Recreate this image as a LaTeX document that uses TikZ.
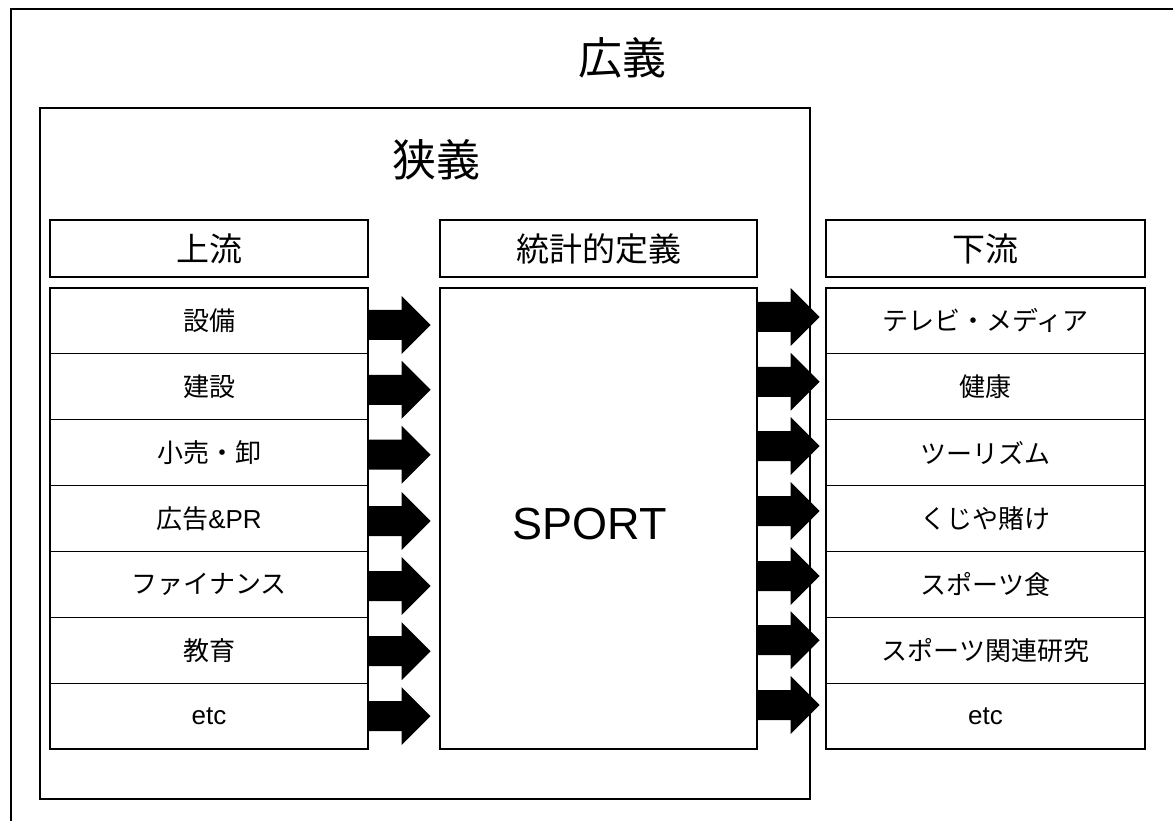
\documentclass[tikz,border=0pt]{standalone}
\usepackage{fontspec}
\setmainfont{Liberation Sans}
\newfontfamily\jp{Noto Sans CJK JP}
\usetikzlibrary{calc}
\newcommand\blockarr[1]{\fill #1 ++(0,-15) -- ++(33,0) -- ++(0,-14) -- ++(29,29) -- ++(-29,29) -- ++(0,-14) -- ++(-33,0) -- cycle;}
\begin{document}
\begin{tikzpicture}[x=1pt,y=-1pt,
  frame/.style={draw,line width=1.4pt},
  row/.style={draw,line width=1.2pt,inner sep=0pt,minimum height=65.86pt,font=\fontsize{26}{30}\selectfont\jp},
  head/.style={draw,line width=1.2pt,inner sep=0pt,minimum height=57pt,font=\fontsize{33}{38}\selectfont\jp},
  big/.style={inner sep=0pt,font=\fontsize{44}{50}\selectfont\jp}]
\useasboundingbox (0,0) rectangle (1173,821);
\clip (0,0) rectangle (1173,821);
\fill[white] (0,0) rectangle (1173,821);
% outer and inner frames
\draw[frame] (11,9) rectangle (1210,860);
\node[big] (wide) at (622,58) {広義};
\draw[frame] (40,108) rectangle (810,799);
\node[big] (narrow) at (436,160) {狭義};
% headers
\node[head,minimum width=318pt] (HU) at (209,248.5) {上流};
\node[head,minimum width=317pt] (HM) at (598.5,248.5) {統計的定義};
\node[head,minimum width=319pt] (HD) at (985.5,248.5) {下流};
% sport box
\node[draw,line width=1.2pt,inner sep=0pt,minimum width=317pt,minimum height=461pt] (S) at (598.5,518.5) {};
\node[inner sep=0pt,font=\fontsize{45}{50}\selectfont] (ST) at (590,524) {SPORT};
% left rows
\begin{scope}[every node/.append style={row,minimum width=318pt}]
\node (L1) at (209,320.9) {設備};
\node (L2) at (209,386.8) {建設};
\node (L3) at (209,452.7) {小売・卸};
\node (L4) at (209,518.5) {広告{\fontspec{Liberation Sans}\&PR}};
\node (L5) at (209,584.4) {ファイナンス};
\node (L6) at (209,650.2) {教育};
\node (L7) at (209,716.1) {{\fontspec{Liberation Sans}etc}};
\end{scope}
% right rows
\begin{scope}[every node/.append style={row,minimum width=319pt}]
\node (R1) at (985.5,320.9) {テレビ・メディア};
\node (R2) at (985.5,386.8) {健康};
\node (R3) at (985.5,452.7) {ツーリズム};
\node (R4) at (985.5,518.5) {くじや賭け};
\node (R5) at (985.5,584.4) {スポーツ食};
\node (R6) at (985.5,650.2) {スポーツ関連研究};
\node (R7) at (985.5,716.1) {{\fontspec{Liberation Sans}etc}};
\end{scope}
% left arrows
\blockarr{($(L1.east)+(0,4)$)}
\blockarr{($(L2.east)+(0,3)$)}
\blockarr{($(L3.east)+(0,2)$)}
\blockarr{($(L4.east)+(0,2.5)$)}
\blockarr{($(L5.east)+(0,1.6)$)}
\blockarr{($(L6.east)+(0,1)$)}
\blockarr{($(L7.east)+(0,0)$)}
% right arrows
\blockarr{($(S.east |- R1.west)+(0,-4)$)}
\blockarr{($(S.east |- R2.west)+(0,-5)$)}
\blockarr{($(S.east |- R3.west)+(0,-6.7)$)}
\blockarr{($(S.east |- R4.west)+(0,-7.5)$)}
\blockarr{($(S.east |- R5.west)+(0,-8.4)$)}
\blockarr{($(S.east |- R6.west)+(0,-10)$)}
\blockarr{($(S.east |- R7.west)+(0,-11)$)}
\end{tikzpicture}
\end{document}
